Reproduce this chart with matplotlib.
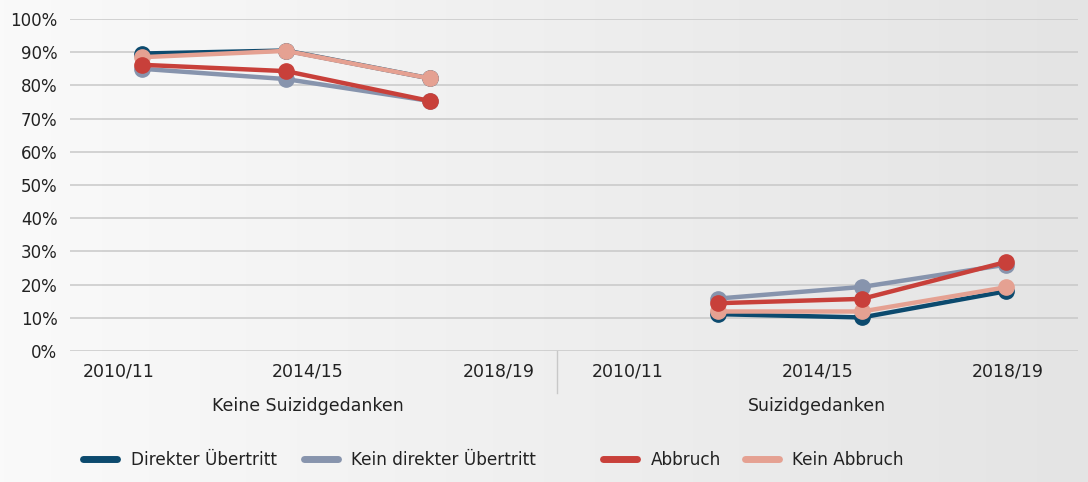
import numpy as np
import matplotlib.pyplot as plt
from matplotlib.colors import LinearSegmentedColormap
from matplotlib.lines import Line2D

plt.rcParams['font.family'] = ['Liberation Sans Narrow', 'DejaVu Sans Condensed', 'DejaVu Sans']

# Daten (Anteile in %)
jahre = ['2010/11', '2014/15', '2018/19']
gruppen = ['Keine Suizidgedanken', 'Suizidgedanken']
serien = ['Direkter Übertritt', 'Kein direkter Übertritt', 'Abbruch', 'Kein Abbruch']
farben = ['#0c4a6e', '#8794ad', '#c8403a', '#e5a192']
ebenen = [2, 3, 5, 4]

direkter = [[89.6, 90.5, 82.1], [11.1, 10.1, 18.0]]
kein_direkter = [[85.0, 81.9, 75.3], [15.8, 19.3, 26.0]]
abbruch = [[86.2, 84.3, 75.3], [14.4, 15.7, 26.8]]
kein_abbruch = [[88.5, 90.4, 82.1], [11.9, 11.9, 19.2]]
werte = [direkter, kein_direkter, abbruch, kein_abbruch]

fig = plt.figure(figsize=(10.88, 4.82), dpi=100)

# Hintergrund mit leichtem Verlauf
bg = fig.add_axes([0, 0, 1, 1], zorder=-10)
cmap = LinearSegmentedColormap.from_list('bg', ['#fafafa', '#e4e4e4'])
bg.imshow(np.linspace(0, 1, 256).reshape(1, -1), aspect='auto', cmap=cmap,
          extent=[0, 1, 0, 1])
bg.axis('off')

ax = fig.add_axes([70 / 1088, 1 - 351 / 482, 1008 / 1088, 332 / 482])
ax.set_facecolor('none')

for vals, farbe, name, z in zip(werte, farben, serien, ebenen):
    for g in range(2):
        x = np.arange(3) + g * 4
        ax.plot(x, vals[g], color=farbe, linewidth=3.2, marker='o', zorder=z,
                markersize=11, solid_capstyle='round')

ax.set_xlim(-0.5, 6.5)
ax.set_ylim(0, 100)
ax.set_yticks(np.arange(0, 101, 10))
ax.set_yticklabels([f'{v}%' for v in range(0, 101, 10)], fontsize=12,
                   color='#222222', family=['DejaVu Sans'])
ax.tick_params(axis='y', length=0, pad=9)
ax.set_xticks([])
ax.grid(axis='y', color='#c8c8c8', linewidth=1.1)
ax.set_axisbelow(True)
for s in ax.spines.values():
    s.set_visible(False)

# Kategorien unter der Achse
kat_pos = [[119, 308, 499], [628, 818, 1008]]
grp_pos = [308, 817]
for g in range(2):
    for j, jahr in enumerate(jahre):
        ax.text((kat_pos[g][j] - 70) / 1008, -21 / 332, jahr, transform=ax.transAxes,
                ha='center', va='center', fontsize=12.5, color='#222222')
    ax.text((grp_pos[g] - 70) / 1008, -55 / 332, gruppen[g], transform=ax.transAxes,
            ha='center', va='center', fontsize=12.5, color='#222222')
ax.plot([(557 - 70) / 1008] * 2, [0, -42 / 332], transform=ax.transAxes,
        color='#c8c8c8', linewidth=1.0, clip_on=False)

handles = [Line2D([], [], color=f, linewidth=5, solid_capstyle='round') for f in farben]
leg1 = fig.legend(handles[:2], serien[:2], loc='center left', ncol=2,
                  bbox_to_anchor=(68 / 1088, 1 - 460 / 482), frameon=False,
                  fontsize=12.2, handlelength=2.0, columnspacing=1.6, handletextpad=0.8)
leg2 = fig.legend(handles[2:], serien[2:], loc='center left', ncol=2,
                  bbox_to_anchor=(588 / 1088, 1 - 460 / 482), frameon=False,
                  fontsize=12.2, handlelength=2.0, columnspacing=1.4, handletextpad=0.8)
for leg in (leg1, leg2):
    for t in leg.get_texts():
        t.set_color('#222222')

fig.savefig('out.png', dpi=100)
